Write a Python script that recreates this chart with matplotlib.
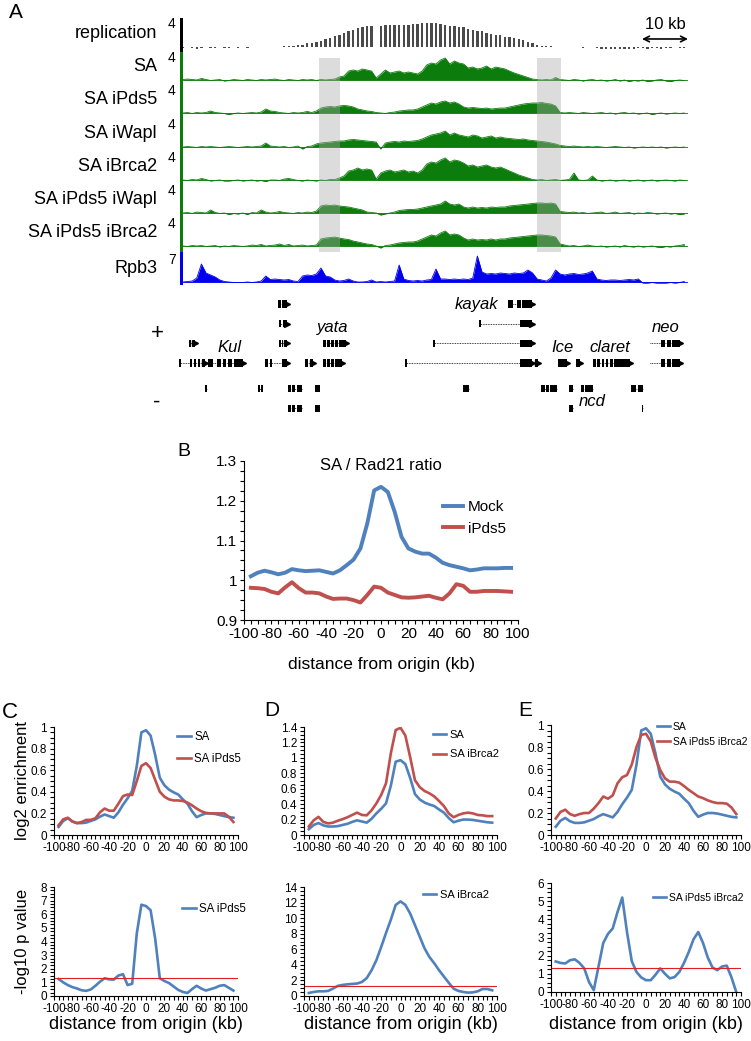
import numpy as np
import matplotlib
matplotlib.use('Agg')
import matplotlib.pyplot as plt
from matplotlib.patches import Rectangle
from matplotlib.ticker import MultipleLocator, FuncFormatter

plt.rcParams['font.family'] = ['Liberation Sans', 'DejaVu Sans']
plt.rcParams['axes.unicode_minus'] = False

W, H = 751, 1041

# ---------------- panel A: browser tracks (1 kb bins) ----------------
kb = np.arange(110)

replication = [
    -0.19, -0.12, -0.19, -0.25, -0.19, -0.12, -0.19, -0.19, -0.12, -0.19,
    -0.19, -0.12, -0.19, -0.12, -0.19, -0.12, -0.12, -0.06, -0.12, -0.06,
    -0.06, -0.06, 0.06, 0.06, 0.12, 0.19, 0.25, 0.38, 0.5, 0.62,
    0.75, 0.94, 1.12, 1.31, 1.5, 1.75, 1.94, 2.12, 2.31, 2.44,
    2.56, 2.62, 0.0, 2.62, 2.69, 2.69, 2.75, 2.75, 2.75, 2.75,
    2.81, 2.81, 2.88, 2.88, 2.88, 2.88, 2.81, 2.75, 2.62, 2.56,
    2.5, 2.38, 2.25, 2.12, 2.0, 1.88, 1.75, 1.62, 1.5, 1.38,
    1.25, 1.19, 1.12, 1.0, 0.81, 0.62, 0.44, 0.25, 0.12, 0.06,
    0.06, -0.06, -0.06, -0.12, -0.06, -0.12, -0.12, -0.19, -0.12, -0.12,
    -0.19, -0.25, -0.25, -0.31, -0.25, -0.25, -0.31, -0.25, -0.25, -0.19,
    -0.19, -0.25, -0.19, -0.19, -0.25, -0.19, -0.19, -0.12, -0.19, -0.19]

sa = [
    0.06, 0.12, 0.06, 0.0, 0.19, 0.06, -0.06, 0.0, 0.06, -0.12,
    -0.06, 0.06, 0.0, -0.06, 0.06, 0.0, -0.06, 0.06, 0.0, 0.06,
    0.12, 0.0, -0.06, 0.06, 0.0, -0.06, 0.06, 0.0, 0.06, -0.06,
    0.06, 0.0, 0.06, 0.12, 0.38, 0.5, 1.12, 1.25, 1.12, 1.38,
    1.25, 1.12, 0.25, 0.75, 1.25, 0.88, 1.0, 1.12, 0.88, 1.0,
    0.88, 0.75, 1.12, 1.88, 2.12, 2.0, 2.5, 2.75, 2.0, 2.38,
    2.12, 2.0, 1.5, 1.62, 1.38, 1.5, 1.75, 1.38, 1.62, 1.5,
    1.38, 1.12, 0.88, 0.69, 0.5, 0.31, 0.12, 0.06, 0.0, 0.06,
    0.0, 0.31, 0.06, 0.0, -0.06, 0.06, 0.0, -0.12, 0.0, 0.06,
    -0.06, 0.0, -0.12, -0.06, 0.06, -0.12, 0.0, -0.19, -0.06, -0.12,
    0.0, -0.19, -0.12, 0.0, 0.06, -0.12, -0.19, -0.06, 0.0, -0.06]

sa_ipds5 = [
    0.0, 0.06, -0.06, 0.06, 0.0, 0.06, 0.25, 0.06, 0.0, -0.06,
    -0.19, -0.06, 0.0, -0.06, 0.0, 0.06, 0.0, 0.12, 0.5, 0.25,
    0.19, 0.06, 0.0, -0.06, 0.06, 0.0, 0.06, 0.19, 0.06, 0.25,
    0.62, 0.75, 0.81, 0.75, 0.88, 0.94, 0.88, 0.75, 0.5, 0.38,
    0.25, 0.19, 0.06, 0.0, -0.06, 0.06, 0.12, 0.25, 0.31, 0.38,
    0.38, 0.5, 0.75, 1.0, 1.25, 1.12, 1.38, 1.5, 1.25, 1.38,
    1.12, 0.75, 0.62, 0.69, 0.62, 0.56, 0.62, 0.5, 0.56, 0.62,
    0.62, 0.75, 0.88, 1.0, 1.12, 1.19, 1.25, 1.25, 1.31, 1.19,
    1.12, 0.88, 0.06, 0.0, 0.06, 0.0, -0.06, 0.06, 0.0, -0.06,
    0.0, 0.06, -0.06, 0.0, -0.12, 0.0, 0.06, -0.06, 0.0, -0.12,
    -0.06, 0.0, -0.19, -0.06, 0.0, -0.12, -0.06, 0.0, -0.06, 0.0]

sa_iwapl = [
    0.0, 0.06, 0.0, -0.06, 0.06, 0.0, 0.06, 0.0, -0.06, 0.0,
    0.06, 0.0, -0.06, 0.0, 0.06, 0.0, 0.06, 0.12, 0.5, 0.12,
    0.06, 0.0, 0.06, -0.06, 0.0, 0.12, -0.25, 0.06, 0.12, 0.38,
    0.5, 0.56, 0.62, 0.69, 0.75, 0.75, 0.88, 0.94, 0.88, 0.81,
    0.75, 0.69, 0.62, -0.25, 0.5, 0.62, 0.69, 0.62, 0.75, 0.69,
    0.75, 0.81, 1.0, 1.25, 1.5, 1.62, 1.75, 2.0, 1.5, 1.75,
    1.5, 1.38, 1.25, 1.5, 1.38, 1.12, 1.25, 1.38, 1.12, 1.25,
    1.12, 1.06, 1.0, 0.94, 1.0, 0.88, 0.81, 0.75, 0.69, 0.62,
    0.5, 0.38, 0.19, 0.12, 0.06, 0.12, 0.06, 0.0, 0.06, 0.0,
    0.06, 0.0, -0.06, 0.0, 0.06, 0.0, -0.06, 0.0, -0.12, -0.06,
    0.0, -0.06, 0.0, -0.06, 0.0, -0.12, -0.06, 0.0, -0.06, 0.0]

sa_ibrca2 = [
    0.0, -0.06, 0.06, 0.0, 0.19, 0.06, -0.12, -0.06, 0.0, -0.12,
    -0.12, -0.06, 0.0, -0.12, -0.06, 0.0, -0.12, -0.06, -0.19, 0.0,
    0.0, -0.06, 0.12, 0.19, 0.06, -0.06, -0.12, 0.0, -0.06, -0.12,
    0.0, -0.06, 0.06, 0.06, 0.25, 0.5, 1.12, 1.25, 1.5, 1.25,
    1.38, 1.25, 0.12, 0.88, 1.12, 1.25, 1.0, 1.12, 1.25, 1.0,
    1.12, 0.88, 1.25, 2.0, 2.25, 2.12, 2.5, 2.75, 2.25, 2.5,
    2.38, 2.12, 1.75, 1.88, 1.62, 1.75, 1.88, 1.62, 1.5, 1.62,
    1.38, 1.12, 0.88, 0.62, 0.44, 0.25, 0.06, 0.0, 0.06, -0.06,
    0.0, 0.06, -0.06, 0.0, 0.06, 0.88, 0.0, -0.06, 0.0, 0.5,
    0.0, -0.12, -0.06, 0.0, -0.12, -0.06, 0.0, -0.12, -0.06, 0.0,
    -0.12, -0.06, 0.0, -0.12, -0.06, 0.0, -0.06, -0.12, 0.0, -0.06]

sa_ipds5_iwapl = [
    0.0, 0.06, -0.06, 0.12, 0.06, 0.0, 0.38, 0.06, -0.06, 0.0,
    -0.19, -0.06, -0.12, 0.0, -0.19, 0.06, 0.0, 0.38, 0.12, 0.0,
    0.06, 0.19, 0.06, 0.0, -0.06, 0.06, 0.0, 0.12, 0.06, 0.25,
    0.88, 1.0, 0.94, 1.0, 0.88, 0.81, 0.75, 0.62, 0.5, 0.38,
    0.12, 0.06, 0.0, -0.25, -0.12, 0.0, 0.12, 0.31, 0.38, 0.44,
    0.44, 0.5, 0.62, 0.75, 0.88, 1.0, 1.12, 1.5, 1.12, 1.0,
    1.12, 0.75, 0.62, 0.75, 0.62, 0.69, 0.62, 0.75, 0.69, 0.75,
    0.75, 0.88, 0.94, 1.0, 1.06, 1.12, 1.19, 1.25, 1.25, 1.19,
    1.25, 1.12, 0.19, 0.12, 0.06, 0.12, 0.0, 0.06, -0.06, 0.0,
    0.06, 0.12, -0.06, 0.0, 0.12, -0.06, 0.0, 0.06, -0.12, 0.0,
    -0.06, 0.06, 0.0, -0.12, -0.06, 0.0, -0.12, -0.06, -0.19, -0.12]

sa_ipds5_ibrca2 = [
    0.0, -0.06, 0.06, 0.0, 0.06, -0.06, 0.0, 0.06, -0.12, 0.0,
    -0.06, 0.06, 0.0, -0.06, 0.0, 0.12, 0.06, 0.19, 0.0, 0.06,
    0.12, 0.25, 0.06, 0.19, 0.0, 0.06, 0.12, 0.0, 0.06, 0.12,
    0.88, 1.0, 1.06, 1.12, 1.0, 0.88, 0.81, 0.62, 0.5, 0.38,
    0.25, 0.19, 0.0, -0.25, 0.06, 0.12, 0.25, 0.38, 0.44, 0.5,
    0.5, 0.62, 0.88, 1.12, 1.38, 1.25, 1.62, 1.88, 1.38, 1.5,
    1.38, 1.0, 0.75, 0.88, 0.75, 0.81, 0.75, 0.88, 0.75, 0.88,
    0.88, 1.0, 1.06, 1.12, 1.19, 1.25, 1.31, 1.38, 1.38, 1.31,
    1.25, 1.12, 0.25, 0.12, 0.0, 0.06, -0.06, 0.0, 0.12, 0.0,
    -0.06, 0.0, -0.12, -0.06, 0.0, -0.12, 0.06, -0.06, -0.12, 0.0,
    -0.12, -0.06, 0.0, -0.12, -0.19, -0.06, -0.12, 0.0, 0.06, 0.19]

rpb3 = [
    0.0, 0.12, 0.25, 1.0, 4.5, 2.25, 1.75, 1.25, 0.5, 0.12,
    0.0, -0.12, -0.12, -0.12, 0.0, -0.12, 0.0, 0.25, 1.5, 0.62,
    0.75, 0.62, 0.5, 0.62, 0.25, 0.12, 1.5, 1.75, 1.62, 2.0,
    3.5, 1.5, 1.25, 0.5, 0.25, 0.38, 0.75, 0.25, 0.0, 0.0,
    0.12, 0.5, 0.0, 0.12, 0.0, 0.12, 0.25, 4.25, 0.75, 0.38,
    0.25, 0.38, 0.25, 0.5, 0.62, 3.25, 0.75, 0.75, 0.62, 0.75,
    0.62, 0.75, 0.62, 1.0, 6.5, 2.5, 2.0, 2.12, 2.0, 2.25,
    2.12, 2.0, 2.25, 2.12, 2.25, 3.0, 2.25, 0.75, 0.5, 0.25,
    1.0, 3.0, 2.0, 1.75, 2.0, 2.12, 1.88, 2.0, 2.25, 2.75,
    0.75, 0.5, 0.38, 0.5, 0.5, 0.38, 0.5, 0.62, 0.5, 0.75,
    -0.25, -0.25, -0.12, -0.25, -0.25, -0.25, -0.12, -0.25, -0.12, 0.12]

highlights = [(29.6, 34.1), (77.0, 82.2)]

# genes: (row, start, end, exons) in kb; rows 0-3 plus strand, 4-5 minus strand
genes = [
    (0, 20.7, 22.6, [(20.7, 21.2), (21.6, 22.6)]),
    (0, 70.7, 75.9, [(70.7, 71.8), (72.6, 73.4), (73.8, 75.9)]),
    (1, 20.9, 22.6, [(20.9, 21.3), (21.8, 22.6)]),
    (1, 64.3, 75.9, [(64.3, 64.7), (73.3, 75.9)]),
    (2, 1.3, 2.6, [(1.3, 1.8), (2.1, 2.6)]),
    (2, 20.9, 22.6, [(20.9, 21.2), (21.5, 21.8), (22.1, 22.6)]),
    (2, 30.4, 35.4, [(30.4, 31.0), (31.3, 31.9), (32.2, 32.8), (33.1, 33.7), (34.0, 35.4)]),
    (2, 54.3, 75.9, [(54.3, 54.8), (73.3, 75.9)]),
    (2, 101.5, 108.0, [(104.0, 104.8), (105.2, 106.0), (106.4, 108.0)]),
    (3, -0.9, 4.8, [(-0.9, -0.4), (1.5, 2.0), (2.4, 2.9), (3.3, 3.8), (4.2, 4.8)]),
    (3, 5.4, 13.0, [(5.4, 6.5), (7.4, 8.2), (8.6, 9.4), (9.8, 10.6), (11.0, 13.0)]),
    (3, 17.8, 22.6, [(17.8, 18.5), (18.9, 19.3), (21.5, 22.6)]),
    (3, 26.5, 28.3, [(26.5, 27.2), (27.6, 28.3)]),
    (3, 30.4, 34.6, [(30.4, 31.0), (31.3, 31.9), (32.2, 32.8), (33.1, 34.6)]),
    (3, 48.3, 75.9, [(48.3, 48.8), (73.3, 75.9)]),
    (3, 76.5, 77.2, [(76.5, 77.2)]),
    (3, 81.5, 83.5, [(81.5, 83.5)]),
    (3, 85.4, 86.3, [(85.4, 86.3)]),
    (3, 89.1, 97.2, [(89.1, 89.8), (90.1, 90.7), (91.0, 91.6), (91.9, 92.5), (92.8, 93.4), (93.7, 97.2)]),
    (3, 101.5, 108.0, [(104.0, 104.8), (105.2, 106.0), (106.4, 108.0)]),
    (4, 4.8, 5.2, [(4.8, 5.2)]),
    (4, 16.3, 17.4, [(16.3, 16.7), (17.0, 17.4)]),
    (4, 22.8, 25.9, [(22.8, 23.5), (23.8, 24.4), (24.7, 25.9)]),
    (4, 28.7, 29.8, [(28.7, 29.8)]),
    (4, 60.9, 62.2, [(60.9, 62.2)]),
    (4, 77.8, 81.3, [(77.8, 78.6), (78.9, 79.6), (79.9, 81.3)]),
    (4, 83.9, 84.8, [(83.9, 84.8)]),
    (4, 86.5, 89.1, [(86.5, 87.2), (87.5, 89.1)]),
    (4, 97.4, 100.0, [(97.4, 98.6), (99.0, 100.0)]),
    (5, 22.8, 25.9, [(22.8, 23.5), (23.8, 24.4), (24.7, 25.9)]),
    (5, 28.7, 29.8, [(28.7, 29.8)]),
    (5, 83.9, 84.8, [(83.9, 84.8)]),
    (5, 99.8, 100.1, [(99.8, 100.1)]),
]
gene_names = [('Kul', 10.2, 2.23), ('yata', 32.6, 1.17), ('kayak', 63.9, 0.0),
              ('Ice', 82.4, 2.23), ('claret', 92.8, 2.23), ('neo', 105.0, 1.17),
              ('ncd', 88.9, 4.97)]

# ---------------- panels B-E: profiles around origins ----------------
dist = np.arange(-95, 100, 5)

ratio_mock = [1.010, 1.019, 1.024, 1.020, 1.015, 1.019, 1.028, 1.025, 1.023, 1.024,
              1.025, 1.021, 1.017, 1.025, 1.038, 1.052, 1.080, 1.143, 1.226, 1.235,
              1.222, 1.172, 1.109, 1.080, 1.072, 1.067, 1.067, 1.057, 1.044, 1.038,
              1.034, 1.030, 1.025, 1.027, 1.030, 1.030, 1.030, 1.031, 1.031]
ratio_ipds5 = [0.981, 0.980, 0.978, 0.971, 0.967, 0.982, 0.995, 0.980, 0.969, 0.969,
               0.967, 0.959, 0.953, 0.954, 0.954, 0.950, 0.944, 0.963, 0.984, 0.981,
               0.969, 0.963, 0.957, 0.956, 0.957, 0.959, 0.961, 0.956, 0.952, 0.967,
               0.990, 0.986, 0.971, 0.971, 0.973, 0.973, 0.973, 0.972, 0.971]

enr_sa = [0.075, 0.13, 0.155, 0.125, 0.11, 0.11, 0.115, 0.13, 0.145, 0.17,
          0.19, 0.175, 0.16, 0.21, 0.28, 0.34, 0.41, 0.64, 0.95, 0.97,
          0.92, 0.74, 0.53, 0.46, 0.42, 0.395, 0.375, 0.33, 0.29, 0.22,
          0.165, 0.185, 0.2, 0.2, 0.195, 0.185, 0.175, 0.165, 0.16]
enr_ipds5 = [0.09, 0.145, 0.16, 0.125, 0.11, 0.12, 0.14, 0.14, 0.155, 0.21,
             0.245, 0.225, 0.225, 0.29, 0.36, 0.375, 0.37, 0.50, 0.64, 0.665,
             0.62, 0.51, 0.40, 0.355, 0.33, 0.32, 0.32, 0.315, 0.30, 0.275,
             0.245, 0.22, 0.205, 0.2, 0.2, 0.2, 0.2, 0.17, 0.12]
enr_ibrca2 = [0.11, 0.19, 0.235, 0.17, 0.15, 0.16, 0.185, 0.205, 0.23, 0.26,
              0.29, 0.26, 0.255, 0.32, 0.41, 0.52, 0.67, 1.06, 1.36, 1.39,
              1.29, 1.01, 0.71, 0.62, 0.57, 0.54, 0.50, 0.44, 0.375, 0.28,
              0.23, 0.26, 0.28, 0.29, 0.28, 0.26, 0.255, 0.245, 0.245]
enr_ipds5_ibrca2 = [0.15, 0.21, 0.23, 0.19, 0.175, 0.19, 0.2, 0.2, 0.24, 0.29,
                    0.35, 0.33, 0.36, 0.47, 0.525, 0.545, 0.64, 0.80, 0.91, 0.92,
                    0.85, 0.70, 0.59, 0.515, 0.485, 0.485, 0.476, 0.445, 0.41, 0.38,
                    0.35, 0.335, 0.315, 0.30, 0.29, 0.29, 0.285, 0.25, 0.19]

p_ipds5 = [1.25, 1.0, 0.8, 0.65, 0.55, 0.42, 0.38, 0.48, 0.75, 1.05,
           1.3, 1.22, 1.2, 1.5, 1.6, 0.8, 0.9, 4.6, 6.7, 6.6,
           6.3, 4.2, 1.3, 1.1, 0.95, 0.7, 0.45, 0.3, 0.22, 0.5,
           0.75, 0.55, 0.4, 0.5, 0.6, 0.75, 0.8, 0.6, 0.4]
p_ibrca2 = [0.39, 0.52, 0.6, 0.6, 0.65, 0.95, 1.3, 1.42, 1.5, 1.55,
            1.6, 1.8, 2.3, 3.3, 4.6, 6.3, 8.1, 9.8, 11.7, 12.15,
            11.7, 10.6, 9.1, 7.6, 6.1, 5.0, 4.2, 3.3, 2.5, 1.7,
            0.95, 0.65, 0.52, 0.43, 0.47, 0.6, 0.9, 0.9, 0.73]
p_ipds5_ibrca2 = [1.68, 1.6, 1.57, 1.75, 1.8, 1.6, 1.3, 0.55, 0.1, 1.4,
                  2.7, 3.2, 3.5, 4.4, 5.2, 3.3, 1.7, 1.1, 0.8, 0.65,
                  0.65, 0.95, 1.3, 1.0, 0.75, 0.82, 1.1, 1.6, 2.2, 2.9,
                  3.3, 2.7, 1.9, 1.35, 1.2, 1.4, 1.45, 0.8, 0.0]
p_cutoff = 1.3

# ---------------- drawing ----------------
fig = plt.figure(figsize=(W / 100, H / 100), dpi=100)


def rect(l, t, r, b):
    return [l / W, 1 - b / H, (r - l) / W, (b - t) / H]


green = '#0c7c0c'
pure_blue = '#0000ee'
c_blue = '#4f81bd'
c_red = '#c0504d'

# name, values, colour, scale label, baseline (px), px per unit
tracks = [
    ('replication', replication, '#4a4a4a', 4, 46.5, 8),
    ('SA', sa, green, 4, 80, 8),
    ('SA iPds5', sa_ipds5, green, 4, 113, 8),
    ('SA iWapl', sa_iwapl, green, 4, 147, 8),
    ('SA iBrca2', sa_ibrca2, green, 4, 180, 8),
    ('SA iPds5 iWapl', sa_ipds5_iwapl, green, 4, 213, 8),
    ('SA iPds5 iBrca2', sa_ipds5_ibrca2, green, 4, 246, 8),
    ('Rpb3', rpb3, pure_blue, 7, 282, 4),
]
x0, x1 = 183, 688
kb_max = 109.8

lay = fig.add_axes([0, 0, 1, 1])
lay.set_xlim(0, W)
lay.set_ylim(H, 0)
lay.axis('off')
lay.set_zorder(5)

for name, vals, col, scale, base, ppu in tracks:
    lo = 4.0 / ppu
    ax = fig.add_axes(rect(x0, base - scale * ppu, x1, base + 4))
    ax.set_xlim(0, kb_max)
    ax.set_ylim(-lo, scale)
    ax.axis('off')
    if name == 'replication':
        ax.bar(kb, vals, width=0.5, color=col, lw=0)
        ax.annotate('', xy=(kb_max, 0.94), xytext=(kb_max - 10, 0.94),
                    arrowprops=dict(arrowstyle='<->', lw=1.2, color='k',
                                    shrinkA=0, shrinkB=0))
        ax.text(kb_max - 5, 2.7, '10 kb', ha='center', va='center', fontsize=12)
    else:
        ax.fill_between(kb, 0, vals, color=col, lw=0)
        ax.plot(kb, vals, color=col, lw=0.6)
        ax.axhline(0, color=col, lw=0.6)
    lay.text(157, base - 13.5, name, ha='right', va='center', fontsize=13)
    lay.text(172, base - 22, str(scale), ha='center', va='center', fontsize=10)

# coloured bar at the left of the tracks
lay.add_patch(Rectangle((180, 18), 3, 34, color='k', lw=0))
lay.add_patch(Rectangle((180, 52), 3, 200, color=green, lw=0))
lay.add_patch(Rectangle((180, 252), 3, 33, color=pure_blue, lw=0))

# shaded regions over the SA tracks
hl = fig.add_axes(rect(x0, 58, x1, 252))
hl.set_xlim(0, kb_max)
hl.set_ylim(0, 1)
hl.axis('off')
for a, b in highlights:
    hl.axvspan(a, b, color='#a8a8a8', alpha=0.4, lw=0)

# gene models
gax = fig.add_axes(rect(x0, 294.2, x1, 418.3))
gax.set_xlim(0, kb_max)
gax.set_ylim(5.8, -0.5)
gax.axis('off')
for row, s, e, exons in genes:
    y = row + (0.3 if row >= 4 else 0)
    gax.plot([s, e], [y, y], color='k', lw=0.6, ls=(0, (1, 1)), clip_on=False)
    for a, b in exons:
        gax.add_patch(Rectangle((a, y - 0.19), b - a, 0.38, color='k', lw=0,
                                clip_on=False))
    if row < 4:
        gax.plot(e, y, marker='>', ms=4, color='k', clip_on=False)
for name, xg, yg in gene_names:
    gax.text(xg, yg, name, ha='center', va='center', fontsize=12, style='italic')
gax.text(-5.65, 1.47, '+', ha='center', va='center', fontsize=16)
gax.text(-5.65, 4.97, '-', ha='center', va='center', fontsize=16)

# panel letters
lay.text(16, 12.5, 'A', ha='center', va='center', fontsize=15)
lay.text(184, 451.5, 'B', ha='center', va='center', fontsize=14)
lay.text(10, 713, 'C', ha='center', va='center', fontsize=16)
lay.text(272, 710, 'D', ha='center', va='center', fontsize=15)
lay.text(525, 710, 'E', ha='center', va='center', fontsize=15)

fmt = FuncFormatter(lambda v, p: '%g' % round(v, 6))


def style(ax, ylim, ymaj, ymin, fs):
    ax.set_facecolor('none')
    ax.set_xlim(-100, 100)
    ax.set_ylim(*ylim)
    for s in ['top', 'right']:
        ax.spines[s].set_visible(False)
    for s in ['left', 'bottom']:
        ax.spines[s].set_linewidth(0.8)
    ax.xaxis.set_major_locator(MultipleLocator(20))
    ax.xaxis.set_minor_locator(MultipleLocator(5))
    ax.yaxis.set_major_locator(MultipleLocator(ymaj))
    ax.yaxis.set_minor_locator(MultipleLocator(ymin))
    ax.xaxis.set_major_formatter(fmt)
    ax.yaxis.set_major_formatter(fmt)
    ax.tick_params(which='both', direction='out', length=3, width=0.8,
                   labelsize=fs, pad=2)


# B
axB = fig.add_axes(rect(244, 461, 518, 620))
style(axB, (0.9, 1.3), 0.1, 0.025, 11)
axB.plot(dist, ratio_mock, color=c_blue, lw=2.8, label='Mock')
axB.plot(dist, ratio_ipds5, color=c_red, lw=2.8, label='iPds5')
axB.text(0.5, 0.97, 'SA / Rad21 ratio', transform=axB.transAxes,
         ha='center', va='center', fontsize=12)
axB.set_xlabel('distance from origin (kb)', fontsize=12.5)
axB.xaxis.set_label_coords(0.5, -0.235)
axB.legend(loc='upper left', bbox_to_anchor=(0.726, 0.755), frameon=False,
           fontsize=11, handlelength=1.3, handletextpad=0.35, labelspacing=0.5,
           borderpad=0, borderaxespad=0)

panels = [
    # top rect, bottom rect, red series, label, top ylim, major, minor,
    # p series, p ylim, major, minor, legend anchors, legend font
    ((54, 727, 238, 835), (54, 887, 238, 996), enr_ipds5, 'SA iPds5', (0, 1), 0.2, 0.05,
     p_ipds5, (0, 8), 1, 0.25, (0.668, 0.963), (0.696, 0.853), 8.3),
    ((304, 727, 497, 835), (304, 887, 497, 996), enr_ibrca2, 'SA iBrca2', (0, 1.4), 0.2, 0.05,
     p_ibrca2, (0, 14), 2, 0.5, (0.668, 0.972), (0.617, 0.972), 8.0),
    ((551, 725, 741, 835), (551, 883, 741, 992), enr_ipds5_ibrca2, 'SA iPds5 iBrca2', (0, 1), 0.2, 0.05,
     p_ipds5_ibrca2, (0, 6), 1, 0.25, (0.558, 1.03), (0.537, 0.908), 7.5),
]
for i, (rt, rb, red, lab, yl, ym, ymn, pv, pyl, pym, pymn, lg1, lg2, lfs) in enumerate(panels):
    at = fig.add_axes(rect(*rt))
    style(at, yl, ym, ymn, 8.5)
    at.plot(dist, enr_sa, color=c_blue, lw=1.9, label='SA')
    at.plot(dist, red, color=c_red, lw=1.9, label=lab)
    at.legend(loc='upper left', bbox_to_anchor=lg1, frameon=False, fontsize=lfs,
              handlelength=1.2, handletextpad=0.3,
              labelspacing=0.5 if i == 2 else 0.85, borderpad=0, borderaxespad=0)
    ab = fig.add_axes(rect(*rb))
    style(ab, pyl, pym, pymn, 8.5)
    ab.plot(dist, pv, color=c_blue, lw=1.9, label=lab)
    ab.axhline(p_cutoff, color='#e02020', lw=0.8)
    ab.legend(loc='upper left', bbox_to_anchor=lg2, frameon=False, fontsize=lfs,
              handlelength=1.2, handletextpad=0.3, borderpad=0, borderaxespad=0)
    ab.set_xlabel('distance from origin (kb)', fontsize=13)
    ab.xaxis.set_label_coords(0.5, (rb[3] - 1016) / (rb[3] - rb[1]))
    if i == 0:
        at.set_ylabel('log2 enrichment', fontsize=12)
        at.yaxis.set_label_coords(-0.13, 0.5)
        ab.set_ylabel('-log10 p value', fontsize=12)
        ab.yaxis.set_label_coords(-0.13, 0.5)

fig.savefig('out.png', dpi=100)
